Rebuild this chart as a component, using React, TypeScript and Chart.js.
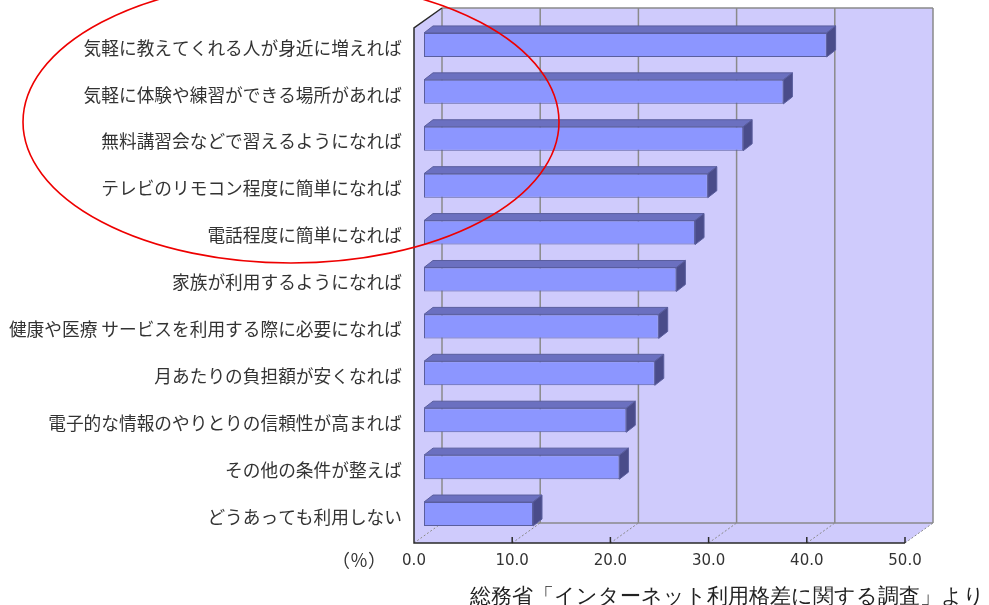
import React, { useEffect, useRef } from "react";
import { Chart, registerables } from "chart.js";

Chart.register(...registerables);

// ---- data ----
const categories: string[] = [
  "気軽に教えてくれる人が身近に増えれば",
  "気軽に体験や練習ができる場所があれば",
  "無料講習会などで習えるようになれば",
  "テレビのリモコン程度に簡単になれば",
  "電話程度に簡単になれば",
  "家族が利用するようになれば",
  "健康や医療 サービスを利用する際に必要になれば",
  "月あたりの負担額が安くなれば",
  "電子的な情報のやりとりの信頼性が高まれば",
  "その他の条件が整えば",
  "どうあっても利用しない",
];
const values: number[] = [41.0, 36.6, 32.5, 28.9, 27.6, 25.7, 23.9, 23.5, 20.6, 19.9, 11.1];
const xMin = 0;
const xMax = 50;
const xStep = 10;
const unitLabel = "（％）";
const sourceNote = "総務省「インターネット利用格差に関する調査」より";

// ---- style ----
const WALL = "#CFCBFC";
const GRID = "#8a8a8a";
const AXIS = "#2a2a2a";
const BAR_FRONT = "#8C96FF";
const BAR_TOP = "#6B70C0";
const BAR_SIDE = "#4A4C8A";
const BAR_EDGE = "#5A5E9E";
const TEXT = "#333333";

const FRONT_DX = -10; // front plane offset from bar plane
const FRONT_DY = 5.5;
const DEPTH_DX = 28; // full depth of the box
const DEPTH_DY = 20;
const BAR_DX = 9; // bar depth
const BAR_DY = 7;
const WALL_TOP_OVER = 13.5;

const poly = (ctx: CanvasRenderingContext2D, pts: number[][]) => {
  ctx.beginPath();
  ctx.moveTo(pts[0][0], pts[0][1]);
  for (let i = 1; i < pts.length; i++) ctx.lineTo(pts[i][0], pts[i][1]);
  ctx.closePath();
};

const box3d = {
  id: "box3d",
  beforeDatasetsDraw(chart: any) {
    const { ctx, chartArea: ca } = chart;
    const xs = chart.scales.x;
    const fx = (v: number) => xs.getPixelForValue(v) + FRONT_DX;
    const fy = ca.bottom + FRONT_DY;
    const bx = (v: number) => fx(v) + DEPTH_DX;
    const by = fy - DEPTH_DY;
    const btop = ca.top - WALL_TOP_OVER;
    const ftop = btop + DEPTH_DY;
    const ticks: number[] = [];
    for (let v = xMin; v <= xMax + 1e-9; v += xStep) ticks.push(v);

    ctx.save();
    ctx.fillStyle = WALL;
    ctx.fillRect(bx(xMin), btop, bx(xMax) - bx(xMin), by - btop);
    poly(ctx, [[fx(xMin), ftop], [bx(xMin), btop], [bx(xMin), by], [fx(xMin), fy]]);
    ctx.fill();
    poly(ctx, [[fx(xMin), fy], [bx(xMin), by], [bx(xMax), by], [fx(xMax), fy]]);
    ctx.fill();

    // back wall grid
    ctx.strokeStyle = GRID;
    ctx.lineWidth = 1.5;
    ctx.beginPath();
    for (const v of ticks) {
      ctx.moveTo(bx(v), btop);
      ctx.lineTo(bx(v), by);
    }
    ctx.moveTo(bx(xMin), btop);
    ctx.lineTo(bx(xMax), btop);
    ctx.moveTo(bx(xMin), by);
    ctx.lineTo(bx(xMax), by);
    ctx.stroke();

    // floor diagonals
    ctx.lineWidth = 1;
    ctx.setLineDash([2, 2]);
    ctx.beginPath();
    for (const v of ticks) {
      ctx.moveTo(fx(v), fy);
      ctx.lineTo(bx(v), by);
    }
    ctx.stroke();
    ctx.setLineDash([]);

    // front axes
    ctx.strokeStyle = AXIS;
    ctx.lineWidth = 1.5;
    ctx.beginPath();
    ctx.moveTo(bx(xMin), btop);
    ctx.lineTo(fx(xMin), ftop);
    ctx.lineTo(fx(xMin), fy);
    ctx.lineTo(fx(xMax), fy);
    for (const v of ticks) {
      if (v === xMin) continue;
      ctx.moveTo(fx(v), fy);
      ctx.lineTo(fx(v), fy - 6);
    }
    ctx.stroke();

    // bar top & side faces
    const meta = chart.getDatasetMeta(0);
    ctx.lineWidth = 1;
    ctx.strokeStyle = BAR_EDGE;
    meta.data.forEach((el: any) => {
      const { x, y, base, height } = el.getProps(["x", "y", "base", "height"], true);
      const t = y - height / 2;
      const b = y + height / 2;
      ctx.fillStyle = BAR_TOP;
      poly(ctx, [[base, t], [x, t], [x + BAR_DX, t - BAR_DY], [base + BAR_DX, t - BAR_DY]]);
      ctx.fill();
      ctx.stroke();
      ctx.fillStyle = BAR_SIDE;
      poly(ctx, [[x, t], [x + BAR_DX, t - BAR_DY], [x + BAR_DX, b - BAR_DY], [x, b]]);
      ctx.fill();
      ctx.stroke();
    });
    ctx.restore();
  },
  afterDraw(chart: any) {
    const { ctx, chartArea: ca } = chart;
    const xs = chart.scales.x;
    ctx.save();
    // unit label
    ctx.fillStyle = TEXT;
    ctx.font = '18px "Noto Sans CJK JP"';
    ctx.textAlign = "right";
    ctx.textBaseline = "middle";
    ctx.fillText(unitLabel, xs.getPixelForValue(xMin) + FRONT_DX - 28, ca.bottom + 23);
    // red annotation ellipse
    ctx.strokeStyle = "#ee0000";
    ctx.lineWidth = 1.6;
    ctx.beginPath();
    ctx.ellipse(291, 122, 268, 141, 0, 0, Math.PI * 2);
    ctx.stroke();
    ctx.restore();
  },
};

export default function App() {
  const ref = useRef<HTMLCanvasElement | null>(null);

  useEffect(() => {
    if (!ref.current) return;
    const chart = new Chart(ref.current, {
      type: "bar",
      data: {
        labels: categories,
        datasets: [
          {
            data: values,
            backgroundColor: BAR_FRONT,
            borderColor: BAR_EDGE,
            borderWidth: 1,
            borderSkipped: false,
            barPercentage: 0.512,
            categoryPercentage: 1,
          },
        ],
      },
      options: {
        indexAxis: "y",
        responsive: false,
        animation: false,
        events: [],
        layout: { padding: { left: 0, right: 74, top: 21.5, bottom: 34.5 } },
        plugins: { legend: { display: false }, tooltip: { enabled: false }, title: { display: false } },
        scales: {
          x: {
            min: xMin,
            max: xMax,
            grid: { display: false, drawTicks: false },
            border: { display: false },
            afterFit: (s: any) => {
              s.paddingLeft = 0;
              s.paddingRight = 0;
              s.height = 33;
            },
            ticks: {
              stepSize: xStep,
              padding: 15,
              labelOffset: FRONT_DX,
              color: TEXT,
              font: { family: '"DejaVu Sans", sans-serif', size: 15 },
              callback: (v: any) => Number(v).toFixed(1),
            },
          },
          y: {
            grid: { display: false, drawTicks: false },
            border: { display: false },
            afterFit: (s: any) => {
              s.width = 424;
              s.paddingTop = 0;
              s.paddingBottom = 0;
            },
            ticks: {
              padding: 22,
              labelOffset: 3,
              color: TEXT,
              font: { family: '"Noto Sans CJK JP", sans-serif', size: 17.7 },
            },
          },
        },
      },
      plugins: [box3d],
    });
    return () => chart.destroy();
  }, []);

  return (
    <div style={{ position: "fixed", left: 0, top: 0, width: 989, height: 605, background: "#ffffff", overflow: "hidden" }}>
      <canvas ref={ref} width={989} height={605} style={{ display: "block" }} />
      <div
        style={{
          position: "absolute",
          right: 4,
          top: 584,
          fontFamily: "serif",
          fontSize: 21,
          lineHeight: "24px",
          color: "#222",
          whiteSpace: "nowrap",
        }}
      >
        {sourceNote}
      </div>
    </div>
  );
}
